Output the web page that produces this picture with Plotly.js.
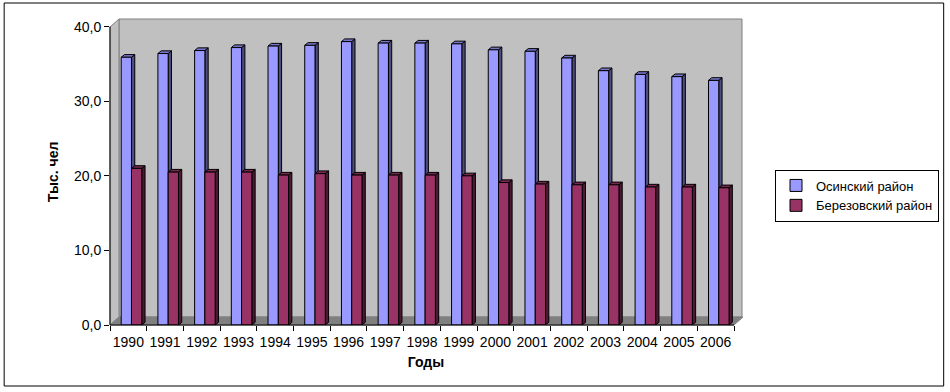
<!DOCTYPE html>
<html>
<head>
<meta charset="utf-8">
<script src="https://cdn.plot.ly/plotly-3.0.1.min.js"></script>
<style>html,body{margin:0;padding:0;background:#fff;}#chart{width:950px;height:392px;}</style>
</head>
<body>
<div id="chart"></div>
<script>
// ---- data ----
const years = ['1990','1991','1992','1993','1994','1995','1996','1997','1998','1999','2000','2001','2002','2003','2004','2005','2006'];
const osinsky = [35.9, 36.4, 36.8, 37.2, 37.4, 37.5, 38.0, 37.8, 37.8, 37.7, 36.9, 36.7, 35.8, 34.1, 33.6, 33.3, 32.8];
const berezovsky = [21.0, 20.5, 20.5, 20.5, 20.1, 20.3, 20.1, 20.1, 20.1, 20.0, 19.1, 18.9, 18.8, 18.8, 18.5, 18.5, 18.4];
const seriesNames = ['Осинский район', 'Березовский район'];
const yTicks = [0, 10, 20, 30, 40];

// ---- geometry helpers (styling only) ----
const W = 950, H = 392;
const L = 110, R = 743, T = 19, B = 325;
const plotW = R - L, plotH = B - T;
const catPx = 625 / years.length;
const xMax = -0.5 + plotW / catPx;
const pxPerUnit = (B - 26.7) / 40;
const yMax = plotH / pxPerUnit;
const px = v => (v - L) / plotW;
const py = v => (B - v) / plotH;

const barW = 0.28;
const offsets = [-0.195, 0.085];
const dx = 3.3 / catPx, dy = 2.7 / pxPerUnit;
const fills = ['#9999FF', '#993366'];
const sides = ['#4D4D80', '#4D1A33'];
const caps = ['#7676C8', '#76284F'];

const shapes = [];
shapes.push({type:'rect', xref:'paper', yref:'paper', x0:px(4), x1:px(945), y0:py(386), y1:py(3),
  line:{color:'#000', width:1}, fillcolor:'rgba(0,0,0,0)', layer:'below'});
shapes.push({type:'rect', xref:'paper', yref:'paper', x0:px(119), x1:px(743), y0:py(317), y1:py(19),
  line:{color:'#808080', width:1}, fillcolor:'#C0C0C0', layer:'below'});
shapes.push({type:'path', xref:'paper', yref:'paper', layer:'below',
  path:`M${px(110)},${py(325)} L${px(110)},${py(27)} L${px(119)},${py(19)} L${px(119)},${py(317)} Z`,
  fillcolor:'#C0C0C0', line:{color:'#808080', width:1}});
shapes.push({type:'path', xref:'paper', yref:'paper', layer:'below',
  path:`M${px(110)},${py(325)} L${px(735)},${py(325)} L${px(744)},${py(317)} L${px(119)},${py(317)} Z`,
  fillcolor:'#808080', line:{color:'#808080', width:1}});
shapes.push({type:'line', xref:'paper', yref:'paper', x0:px(110), x1:px(110), y0:py(325), y1:py(26.7),
  line:{color:'#000', width:1}, layer:'above'});
shapes.push({type:'line', xref:'paper', yref:'paper', x0:px(110), x1:px(735), y0:py(325), y1:py(325),
  line:{color:'#000', width:1}, layer:'above'});

[osinsky, berezovsky].forEach((vals, s) => {
  vals.forEach((v, i) => {
    const x0 = i + offsets[s], x1 = x0 + barW;
    shapes.push({type:'path', xref:'x', yref:'y', layer:'below',
      path:`M${x1},0 L${x1+dx},${dy} L${x1+dx},${v+dy} L${x1},${v} Z`,
      fillcolor:sides[s], line:{color:'#000', width:1}});
    shapes.push({type:'path', xref:'x', yref:'y', layer:'below',
      path:`M${x0},${v} L${x0+dx},${v+dy} L${x1+dx},${v+dy} L${x1},${v} Z`,
      fillcolor:caps[s], line:{color:'#000', width:1}});
  });
});

const traces = [osinsky, berezovsky].map((vals, s) => ({
  type:'bar', x:years, y:vals, name:seriesNames[s],
  width:barW, offset:offsets[s],
  marker:{color:fills[s], line:{color:'#000', width:1}},
  hoverinfo:'x+y'
}));

const font = 'Liberation Sans, Arial, sans-serif';
const layout = {
  width:W, height:H,
  margin:{l:L, r:W-R, t:T, b:H-B, pad:0},
  paper_bgcolor:'#fff', plot_bgcolor:'rgba(0,0,0,0)',
  barmode:'overlay',
  separators:', ',
  font:{family:font, size:14, color:'#000'},
  showlegend:true,
  legend:{x:px(939), y:py(195.5), xanchor:'right', yanchor:'middle',
    bordercolor:'#000', borderwidth:1, bgcolor:'#fff',
    font:{family:font, size:13, color:'#000'}, tracegroupgap:0, itemwidth:30},
  xaxis:{type:'category', range:[-0.5, xMax], showgrid:false, zeroline:false, showline:false,
    ticks:'outside', ticklen:5, tickcolor:'#000', tickson:'boundaries', tickangle:0,
    ticklabelstandoff:7,
    tickfont:{family:font, size:14, color:'#000'},
    title:{text:'Годы', font:{family:font, size:14, color:'#000', weight:'bold'}, standoff:8}},
  yaxis:{range:[0, yMax], tickvals:yTicks, tickformat:'.1f', showgrid:false, zeroline:false, showline:false,
    ticks:'outside', ticklen:5, tickcolor:'#000',
    tickfont:{family:font, size:14, color:'#000'},
    title:{text:'Тыс. чел', font:{family:font, size:14, color:'#000', weight:'bold'}, standoff:12}},
  shapes:shapes
};

Plotly.newPlot('chart', traces, layout, {displayModeBar:false, staticPlot:true});
</script>
</body>
</html>
